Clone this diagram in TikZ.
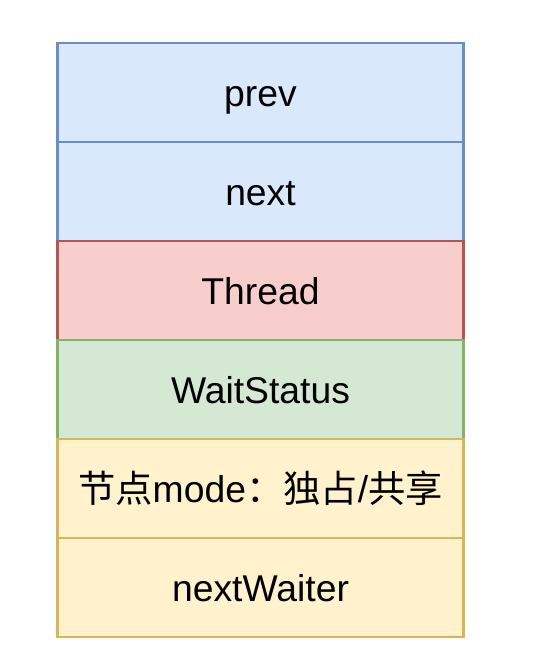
\documentclass[tikz,border=0pt]{standalone}
\usepackage{fontspec}
\setmainfont{Liberation Sans}
\newfontfamily\cjk{Noto Sans CJK SC}
\definecolor{bluefill}{HTML}{DAE8FC}\definecolor{bluedraw}{HTML}{6C8EBF}
\definecolor{redfill}{HTML}{F8CECC}\definecolor{reddraw}{HTML}{B85450}
\definecolor{greenfill}{HTML}{D5E8D4}\definecolor{greendraw}{HTML}{82B366}
\definecolor{yellowfill}{HTML}{FFF2CC}\definecolor{yellowdraw}{HTML}{D6B656}
\tikzset{
  field/.style={rectangle, minimum width=406pt, minimum height=99pt, inner sep=0pt,
    line width=2.5pt, font=\fontsize{37.3}{44}\selectfont, text=black,
    text height=29pt, text depth=0pt},
  bluebox/.style={field, fill=bluefill, draw=bluedraw},
  redbox/.style={field, fill=redfill, draw=reddraw},
  greenbox/.style={field, fill=greenfill, draw=greendraw},
  yellowbox/.style={field, fill=yellowfill, draw=yellowdraw},
}
\begin{document}
\begin{tikzpicture}[x=1pt,y=1pt]
\useasboundingbox[fill=white] (0,0) rectangle (550,670);
\node[bluebox] (prev) at (260.5,{670-92.5}) {prev};
\node[bluebox] (next) at (260.5,{670-191.5}) {next};
\node[redbox] (thread) at (260.5,{670-290.5}) {Thread};
\node[greenbox] (wait) at (260.5,{670-389.5}) {WaitStatus};
\node[yellowbox] (mode) at (260.5,{670-488.5}) {{\cjk 节点}mode{\cjk ：独占}/{\cjk 共享}};
\node[yellowbox] (nextw) at (260.5,{670-587.5}) {nextWaiter};
\end{tikzpicture}
\end{document}
